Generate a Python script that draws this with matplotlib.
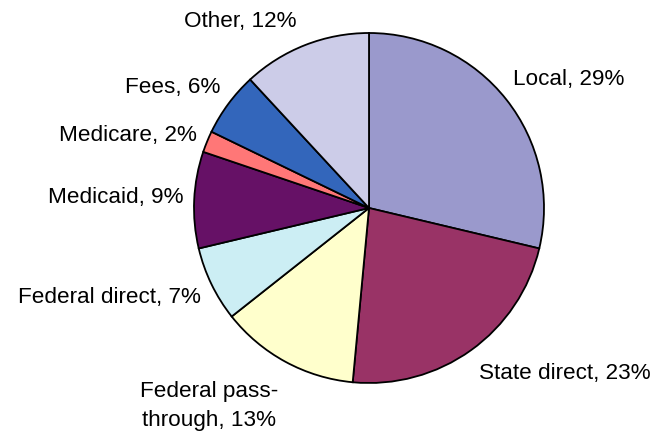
import matplotlib
matplotlib.use("Agg")
import matplotlib.pyplot as plt

categories = ["Local", "State direct", "Federal pass-\nthrough", "Federal direct",
              "Medicaid", "Medicare", "Fees", "Other"]
values = [29, 23, 13, 7, 9, 2, 6, 12]
colors = ["#9A99CC", "#993366", "#FFFFCC", "#CCEEF4", "#661166", "#FF7777", "#3366BB", "#CCCCE8"]

W, H = 658, 432
fig = plt.figure(figsize=(W / 100, H / 100), dpi=100)
ax = fig.add_axes([0, 0, 1, 1])
ax.set_xlim(0, W)
ax.set_ylim(0, H)
ax.set_aspect("equal")
ax.axis("off")

cx, cy, r = 369, H - 208, 175
ax.pie(values, colors=colors, startangle=90, counterclock=False,
       center=(cx, cy), radius=r,
       wedgeprops=dict(edgecolor="black", linewidth=1.3))
ax.set_xlim(0, W)
ax.set_ylim(0, H)

fs = 16.2
# label positions in pixel coords (x, y from top), alignment
label_pos = [
    (513, 79, "left"),
    (479, 373, "left"),
    (209, 406, "center"),
    (201, 298, "right"),
    (184, 197, "right"),
    (197, 135, "right"),
    (220, 87, "right"),
    (240, 22, "center"),
]
for cat, v, (x, y, ha) in zip(categories, values, label_pos):
    ax.text(x, H - y, f"{cat}, {v}%", ha=ha, va="center", fontsize=fs,
            family=['Liberation Sans', 'DejaVu Sans'], linespacing=1.45,
            multialignment="center")

fig.savefig("out.png", dpi=100)
